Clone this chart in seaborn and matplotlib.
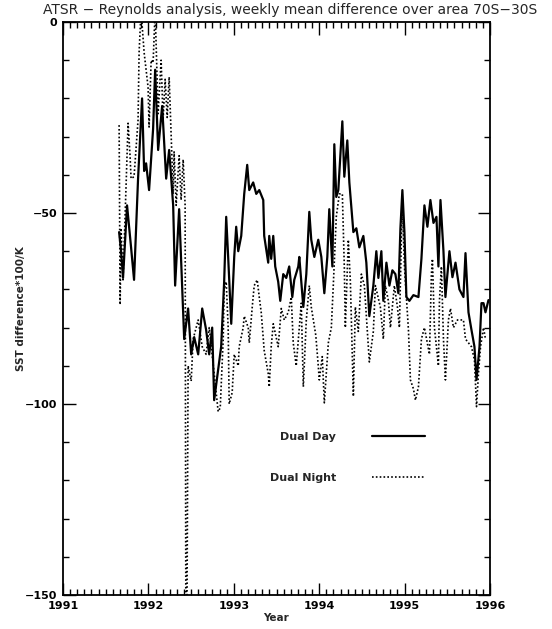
import numpy as np
import pandas as pd
import matplotlib
matplotlib.use("Agg")
import matplotlib.pyplot as plt
from matplotlib.ticker import MultipleLocator
import seaborn as sns

# ---------------- data ----------------
day_years = [
    1991.657, 1991.680, 1991.703, 1991.750, 1991.797, 1991.832, 1991.879, 1991.926,
    1991.950, 1991.973, 1992.008, 1992.055, 1992.079, 1992.114, 1992.161, 1992.208,
    1992.243, 1992.290, 1992.313, 1992.360, 1992.419, 1992.465, 1992.501, 1992.536,
    1992.583, 1992.630, 1992.676, 1992.712, 1992.747, 1992.770, 1992.817, 1992.852,
    1992.887, 1992.911, 1992.934, 1992.970, 1993.005, 1993.028, 1993.052, 1993.087,
    1993.122, 1993.157, 1993.181, 1993.227, 1993.263, 1993.298, 1993.345, 1993.356,
    1993.403, 1993.415, 1993.438, 1993.462, 1993.485, 1993.520, 1993.544, 1993.579,
    1993.614, 1993.649, 1993.685, 1993.708, 1993.755, 1993.767, 1993.814, 1993.849,
    1993.884, 1993.907, 1993.943, 1993.989, 1994.025, 1994.060, 1994.095, 1994.118,
    1994.154, 1994.177, 1994.200, 1994.224, 1994.271, 1994.294, 1994.329, 1994.353,
    1994.400, 1994.435, 1994.470, 1994.517, 1994.552, 1994.587, 1994.634, 1994.669,
    1994.693, 1994.728, 1994.751, 1994.787, 1994.822, 1994.857, 1994.892, 1994.927,
    1994.951, 1994.974, 1994.998, 1995.021, 1995.056, 1995.103, 1995.162, 1995.197,
    1995.232, 1995.267, 1995.302, 1995.338, 1995.373, 1995.396, 1995.420, 1995.455,
    1995.478, 1995.525, 1995.560, 1995.596, 1995.642, 1995.689, 1995.713, 1995.748,
    1995.783, 1995.818, 1995.842, 1995.877, 1995.900, 1995.924, 1995.947, 1995.982,
]
day_values = [
    -55, -60, -67, -48, -59, -67.5, -41, -20,
    -39, -37, -44, -28, -12.5, -33.5, -22, -41,
    -33.5, -48, -69, -49, -83, -75, -87, -82.5,
    -87, -75, -80.6, -87, -80, -99, -91, -85,
    -68, -51, -61.5, -79, -61.5, -53.6, -60, -56,
    -45, -37.4, -44, -42, -45, -44, -46.6, -56,
    -63, -56, -62, -56, -64, -68, -73, -66,
    -67, -64, -72, -67.5, -64, -61.5, -74.6, -66,
    -49.7, -57, -61.5, -57, -61.5, -71, -61.5, -49,
    -64, -32, -45.8, -44, -26, -40.5, -31, -42,
    -55, -54, -59, -56, -63, -77, -69, -60,
    -67, -60, -73, -63, -69, -65, -66, -71,
    -54, -44, -55, -72, -73, -71.5, -72, -62,
    -48, -53.6, -46.6, -52.6, -51, -64, -46.6, -60,
    -72, -60, -66.8, -63, -70, -72, -60.5, -76,
    -80.6, -85, -93.7, -85, -73.6, -73.6, -76, -72.8,
]

night_years = [
    1991.657, 1991.669, 1991.680, 1991.703, 1991.762, 1991.785, 1991.797, 1991.832,
    1991.879, 1991.891, 1991.914, 1991.950, 1991.996, 1992.008, 1992.032, 1992.055,
    1992.079, 1992.114, 1992.149, 1992.172, 1992.196, 1992.220, 1992.243, 1992.266,
    1992.290, 1992.301, 1992.325, 1992.360, 1992.383, 1992.407, 1992.430, 1992.442,
    1992.465, 1992.501, 1992.524, 1992.583, 1992.630, 1992.676, 1992.712, 1992.770,
    1992.817, 1992.841, 1992.876, 1992.887, 1992.911, 1992.934, 1992.946, 1992.981,
    1993.005, 1993.052, 1993.063, 1993.110, 1993.122, 1993.169, 1993.181, 1993.216,
    1993.239, 1993.274, 1993.298, 1993.321, 1993.356, 1993.403, 1993.415, 1993.438,
    1993.462, 1993.520, 1993.556, 1993.591, 1993.638, 1993.673, 1993.696, 1993.731,
    1993.790, 1993.814, 1993.849, 1993.884, 1993.907, 1993.960, 1993.989, 1994.001,
    1994.036, 1994.060, 1994.083, 1994.107, 1994.142, 1994.165, 1994.200, 1994.236,
    1994.271, 1994.294, 1994.306, 1994.341, 1994.365, 1994.400, 1994.423, 1994.458,
    1994.494, 1994.529, 1994.564, 1994.587, 1994.634, 1994.658, 1994.716, 1994.751,
    1994.775, 1994.810, 1994.834, 1994.880, 1994.916, 1994.939, 1994.962, 1994.974,
    1994.998, 1995.045, 1995.068, 1995.103, 1995.127, 1995.162, 1995.197, 1995.232,
    1995.291, 1995.314, 1995.326, 1995.349, 1995.396, 1995.408, 1995.431, 1995.455,
    1995.478, 1995.513, 1995.537, 1995.572, 1995.619, 1995.689, 1995.713, 1995.783,
    1995.818, 1995.842, 1995.865, 1995.889, 1995.924, 1995.947,
]
night_values = [
    -27, -74, -54, -67.5, -26.5, -35, -41, -40.5,
    -25.6, -8, 3, -8, -17, -27.5, -10, -10.7,
    3, -24, -10, -25.6, -15, -25, -14.4, -29.6,
    -45, -34, -48, -35, -46.6, -36, -48, -200,
    -90, -94, -83, -78, -85, -87, -80, -92,
    -102, -101, -83, -70, -68, -80, -100, -97,
    -87, -90, -85, -80, -77, -80, -84, -74.6,
    -69, -67.5, -72, -76, -86, -92, -95.5, -85,
    -79, -85, -75, -78, -76, -72, -84, -90,
    -73.6, -95.5, -78, -69, -74.6, -82, -90, -93.7,
    -87.6, -99.7, -92, -84, -80, -69, -51, -45,
    -45, -64, -80, -57, -68, -98, -74.6, -81,
    -66, -69, -81, -89, -81, -69, -74.6, -83,
    -69, -73, -80, -69, -74.6, -80, -57, -48,
    -64, -80.6, -93.7, -96, -99, -95.5, -83, -80,
    -87, -66, -62, -80, -90, -73, -64, -83,
    -93.7, -78, -75, -80, -78, -78, -83, -85,
    -88.5, -100.7, -92, -85, -80, -83,
]

year_ticks = [1991, 1992, 1993, 1994, 1995, 1996]
value_ticks = [-150, -100, -50, 0]

title = "ATSR \u2212 Reynolds analysis, weekly mean difference over area 70S\u221230S"
day_label = "Dual Day"
night_label = "Dual Night"

# ---------------- plotting ----------------
sns.set_style("ticks")
plt.rcParams["font.family"] = ["DejaVu Sans"]

day_df = pd.DataFrame({"year": day_years, "value": day_values})
night_df = pd.DataFrame({"year": night_years, "value": night_values})

fig = plt.figure(figsize=(5.52, 6.29), dpi=100)
ax = fig.add_axes([63 / 552, 1 - 595 / 629, 427 / 552, 573 / 629])

sns.lineplot(data=day_df, x="year", y="value", ax=ax, color="black",
             linewidth=1.6, estimator=None, sort=False, label=day_label, legend=False)
sns.lineplot(data=night_df, x="year", y="value", ax=ax, color="black",
             linewidth=1.2, estimator=None, sort=False, label=night_label, legend=False,
             linestyle=(0, (1, 1.3)))

ax.set_xlim(1991, 1996)
ax.set_ylim(-150, 0)
ax.set_xticks(year_ticks)
ax.set_xticklabels([str(y) for y in year_ticks], fontsize=8, fontweight="bold")
ax.set_yticks(value_ticks)
ax.set_yticklabels([str(v).replace("-", "\u2212") for v in value_ticks], fontsize=8,
                   fontweight="bold")
ax.xaxis.set_minor_locator(MultipleLocator(1 / 12))
ax.yaxis.set_minor_locator(MultipleLocator(10))
ax.tick_params(which="both", direction="in", top=True, right=True, width=1.0,
               colors="black")
ax.tick_params(which="major", length=9, pad=4)
ax.tick_params(which="minor", length=4)
for s in ax.spines.values():
    s.set_visible(True)
    s.set_linewidth(1.3)
    s.set_color("black")

ax.set_xlabel("Year", fontsize=7.5, fontweight="bold", labelpad=2)
ax.set_ylabel("SST difference*100/K", fontsize=7.5, fontweight="bold", labelpad=-1)

fig.text(290 / 552, 1 - 10 / 629, title, ha="center", va="center", fontsize=10)

leg = ax.legend(loc="upper right", bbox_to_anchor=(0.848, 0.285), markerfirst=False,
                frameon=False, fontsize=8, handlelength=4.8, handletextpad=3.2,
                labelspacing=2.8, borderpad=0, borderaxespad=0)
for t in leg.get_texts():
    t.set_fontweight("bold")

fig.savefig("out.png", dpi=100)
